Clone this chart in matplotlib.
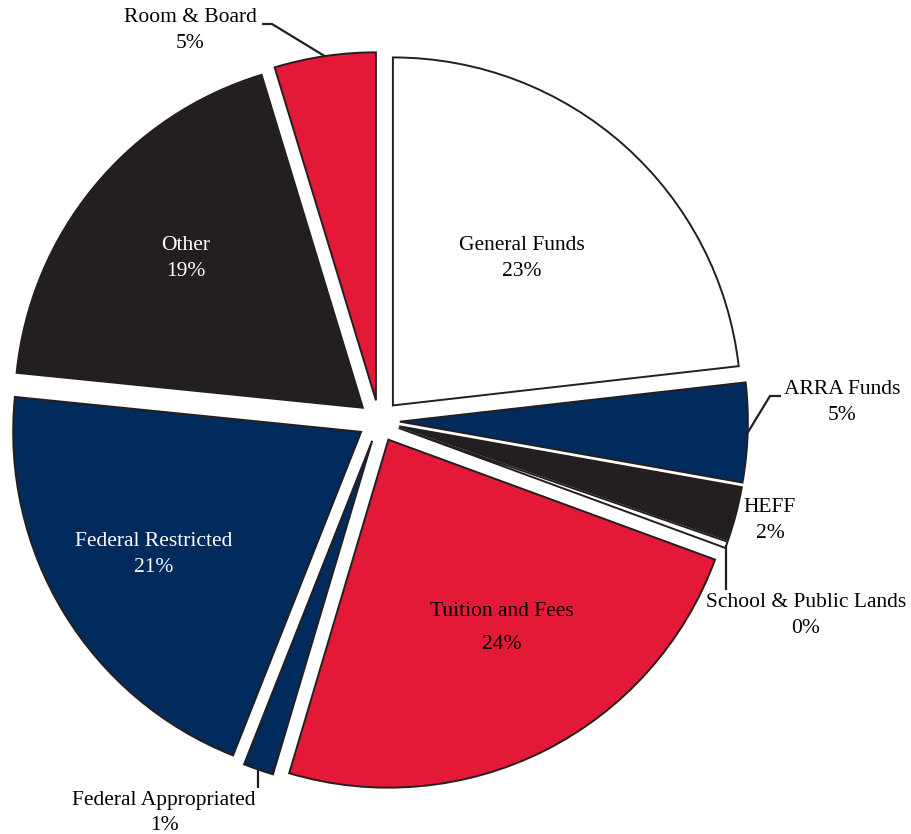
import numpy as np
import matplotlib.pyplot as plt

# slices, clockwise from 12 o'clock
labels = ["General Funds", "ARRA Funds", "HEFF", "School & Public Lands",
          "Tuition and Fees", "Federal Appropriated", "Federal Restricted",
          "Other", "Room & Board"]
values = [23.2, 4.6, 2.5, 0.3, 24.0, 1.4, 20.6, 18.7, 4.7]
pct_labels = ["23%", "5%", "2%", "0%", "24%", "1%", "21%", "19%", "5%"]

WHITE, NAVY, BLACK, RED = "#ffffff", "#002b5c", "#231f20", "#e31937"
colors = [WHITE, NAVY, BLACK, WHITE, RED, NAVY, NAVY, BLACK, RED]
text_colors = ["black", "black", "black", "black", "black", "black", "white", "white", "black"]

# layout in pixels: pie centre and radius
CX, CY, R = 379, 421, 348
W, H = 912, 834


def d(px, py):
    return (px - CX) / R, (CY - py) / R


def arc_point(w):
    mid = np.radians((w.theta1 + w.theta2) / 2)
    return w.center[0] + w.r * np.cos(mid), w.center[1] + w.r * np.sin(mid)


plt.rcParams['font.family'] = ['Liberation Serif', 'DejaVu Serif']

fig = plt.figure(figsize=(W / 100, H / 100), dpi=100)
ax = fig.add_axes([0, 0, 1, 1])
wedges, _ = ax.pie(values, colors=colors, startangle=90, counterclock=False,
                   radius=1, explode=[0.06] * len(values),
                   wedgeprops=dict(edgecolor=BLACK, linewidth=1.4))
ax.set_xlim(-CX / R, (W - CX) / R)
ax.set_ylim(-(H - CY) / R, CY / R)
ax.axis('off')

# label centres (pixels)
label_pos = {
    "General Funds": (522, 258),
    "ARRA Funds": (842, 403),
    "HEFF": (770, 521),
    "School & Public Lands": (806, 616),
    "Tuition and Fees": (502, 628),
    "Federal Appropriated": (164, 813),
    "Federal Restricted": (154, 555),
    "Other": (186, 259),
    "Room & Board": (190, 31),
}

for i, name in enumerate(labels):
    x, y = d(*label_pos[name])
    ls = 2.0 if name == "Tuition and Fees" else 1.5
    ax.text(x, y, name + "\n" + pct_labels[i], ha='center', va='center',
            fontsize=15.5, color=text_colors[i], linespacing=ls)

# leader lines
ln = dict(color=BLACK, lw=1.6, solid_capstyle='butt')
ax0, ay0 = arc_point(wedges[8])
p1, p2 = d(272, 24), d(262, 24)
ax.plot([ax0, p1[0], p2[0]], [ay0, p1[1], p2[1]], **ln)

ax0, ay0 = arc_point(wedges[1])
p1, p2 = d(770, 396), d(781, 396)
ax.plot([ax0, p1[0], p2[0]], [ay0, p1[1], p2[1]], **ln)

ax0, ay0 = arc_point(wedges[3])
ax.plot([ax0, ax0], [ay0, d(0, 590)[1]], **ln)

ax0, ay0 = arc_point(wedges[5])
ax.plot([ax0, ax0], [ay0, d(0, 788)[1]], **ln)

fig.savefig("out.png", dpi=100)
